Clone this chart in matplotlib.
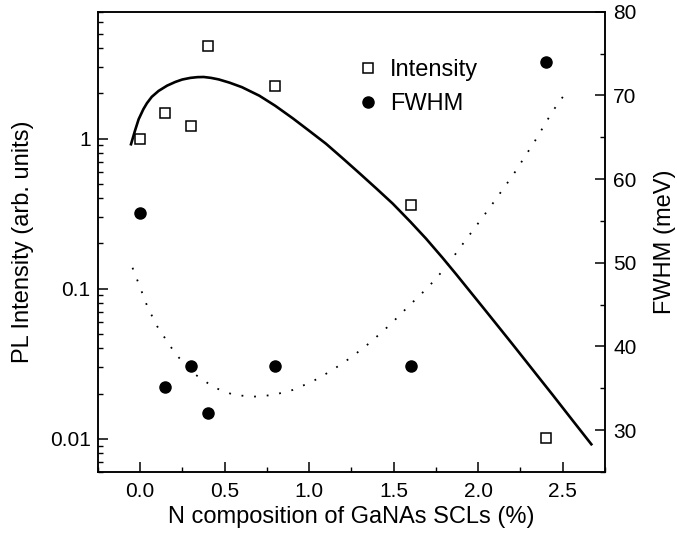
import matplotlib
matplotlib.use('Agg')
import matplotlib.pyplot as plt
from matplotlib.ticker import LogLocator, NullFormatter, FixedLocator, MultipleLocator

plt.rcParams['font.family'] = ['Liberation Sans', 'DejaVu Sans']

# measured points
n_comp = [0.0, 0.15, 0.3, 0.4, 0.8, 1.6, 2.4]
intensity = [1.0, 1.48, 1.21, 4.13, 2.25, 0.359, 0.0101]
fwhm = [55.9, 35.1, 37.7, 32.1, 37.7, 37.7, 74.0]

# fit curve for intensity
fit_x = [-0.053, -0.03, -0.008, 0.02, 0.041, 0.07, 0.11, 0.16, 0.209, 0.25,
         0.298, 0.34, 0.377, 0.42, 0.465, 0.53, 0.603, 0.706, 0.80, 0.903,
         1.0, 1.10, 1.2, 1.298, 1.4, 1.495, 1.6, 1.692, 1.79, 1.87,
         1.949, 2.03, 2.107, 2.2, 2.28, 2.35, 2.44, 2.55, 2.669]
fit_y = [0.916, 1.122, 1.343, 1.567, 1.718, 1.897, 2.075, 2.249, 2.382, 2.472,
         2.535, 2.564, 2.570, 2.535, 2.477, 2.355, 2.198, 1.928, 1.652, 1.365,
         1.127, 0.923, 0.736, 0.587, 0.462, 0.368, 0.278, 0.215, 0.160, 0.1245,
         0.0966, 0.0745, 0.0581, 0.0430, 0.0331, 0.0263, 0.0196, 0.0136, 0.00918]

# guide line for FWHM (dotted)
guide_x = [-0.044, 0.0, 0.045, 0.102, 0.177, 0.219, 0.323, 0.438, 0.556, 0.672, 0.789,
           0.903, 1.019, 1.132, 1.249, 1.363, 1.479, 1.593, 1.705, 1.806, 1.9, 2.069,
           2.21, 2.337, 2.44, 2.528]
guide_y = [49.4, 47.1, 44.7, 42.4, 40.1, 38.9, 36.7, 35.1, 34.2, 34.0, 34.2,
           34.8, 35.8, 37.1, 38.7, 40.5, 42.6, 44.9, 47.1, 49.4, 52.0, 56.6,
           60.6, 64.6, 68.1, 70.6]

fig = plt.figure(figsize=(6.77, 5.38), dpi=100)
ax = fig.add_axes([0.1443, 0.1227, 0.7494, 0.8556])
ax2 = ax.twinx()

# left axis: intensity
ax.plot(fit_x, fit_y, color='black', lw=1.9)
sq, = ax.plot(n_comp, intensity, 's', ms=6.5, mfc='white', mec='black', mew=1.1,
              label='Intensity')
ax.set_yscale('log')
ax.set_ylim(0.006, 7)
ax.set_xlim(-0.25, 2.75)
ax.yaxis.set_major_locator(FixedLocator([0.01, 0.1, 1]))
ax.set_yticklabels(['0.01', '0.1', '1'])
ax.yaxis.set_minor_locator(LogLocator(base=10, subs=range(2, 10)))
ax.yaxis.set_minor_formatter(NullFormatter())
ax.xaxis.set_minor_locator(MultipleLocator(0.25))
ax.set_xticks([0, 0.5, 1.0, 1.5, 2.0, 2.5])
ax.set_xticklabels(['0.0', '0.5', '1.0', '1.5', '2.0', '2.5'])

# right axis: FWHM
ax2.plot(guide_x, guide_y, color='black', lw=1.3, linestyle=(0, (1, 6)))
dots, = ax2.plot(n_comp, fwhm, 'o', ms=8, color='black', label='FWHM')
ax2.set_ylim(25, 80)
ax2.yaxis.set_major_locator(MultipleLocator(10))
ax2.yaxis.set_minor_locator(MultipleLocator(5))

for a in (ax, ax2):
    a.tick_params(which='major', direction='in', length=7, width=1.1, labelsize=15)
    a.tick_params(which='minor', direction='in', length=3.5, width=1.0)
    for s in a.spines.values():
        s.set_linewidth(1.1)
ax.tick_params(axis='y', which='both', right=False, pad=5)
ax.tick_params(axis='x', which='both', top=False, pad=7)
ax2.tick_params(axis='y', pad=6)

ax.set_xlabel('N composition of GaNAs SCLs (%)', fontsize=17)
ax.set_ylabel('PL Intensity (arb. units)', fontsize=17)
ax2.set_ylabel('FWHM (meV)', fontsize=17)
ax.xaxis.set_label_coords(0.5, -0.074)
ax.yaxis.set_label_coords(-0.126, 0.5)
ax2.yaxis.set_label_coords(1.097, 0.5)

ax2.legend(handles=[sq, dots], loc='upper left', bbox_to_anchor=(0.5105, 0.897),
           frameon=False, fontsize=17, handlelength=1.0, handletextpad=0.4,
           borderpad=0, borderaxespad=0, labelspacing=0.5)

fig.savefig('out.png', dpi=100)
